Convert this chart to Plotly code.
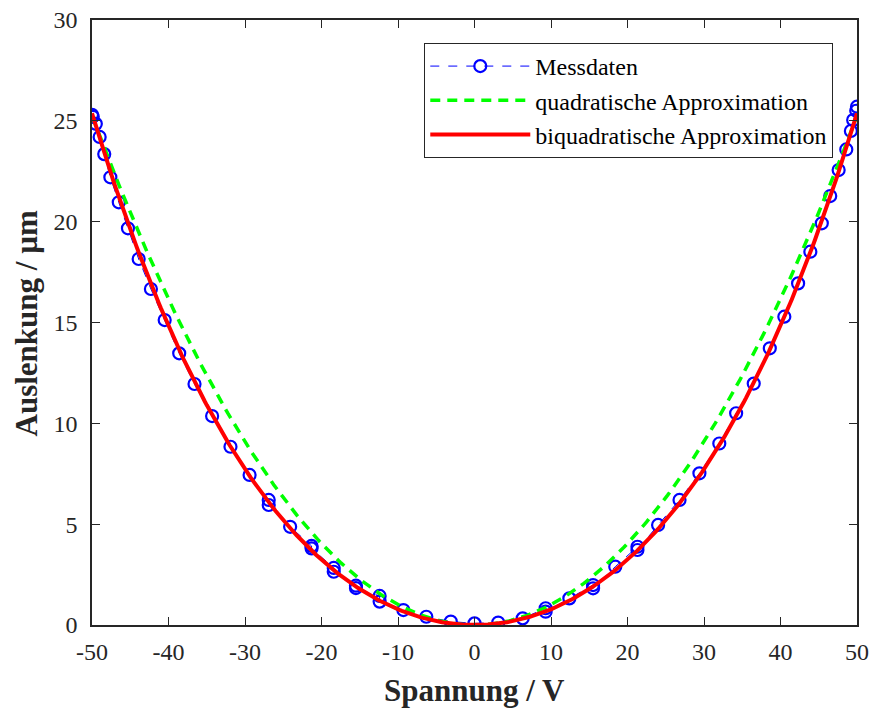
import numpy as np
import plotly.graph_objects as go

spannung = [-50.0, -49.9, -49.5, -49.0, -48.4, -47.6, -46.5, -45.3, -43.9, -42.3, -40.5, -38.6, -36.6,
            -34.3, -31.9, -29.4, -26.9, -26.9, -24.1, -21.3, -21.3, -18.4, -18.4, -15.5, -15.5,
            -12.4, -12.4, -9.3, -6.3, -3.1, 0.0,
            3.1, 6.3, 9.3, 9.3, 12.4, 15.5, 15.5, 18.4, 21.3, 21.3, 24.0, 26.8, 29.4, 32.0, 34.2,
            36.5, 38.6, 40.5, 42.3, 43.9, 45.4, 46.5, 47.6, 48.6, 49.2, 49.5, 49.9, 50.0]
auslenkung = [25.3, 25.2, 24.85, 24.2, 23.35, 22.2, 20.96, 19.67, 18.15, 16.66, 15.12, 13.47, 11.95,
              10.36, 8.84, 7.44, 6.2, 5.95, 4.87, 3.92, 3.8, 2.83, 2.64, 1.95, 1.83,
              1.44, 1.16, 0.74, 0.41, 0.17, 0.08,
              0.12, 0.33, 0.83, 0.66, 1.32, 1.98, 1.82, 2.89, 3.88, 3.72, 4.96, 6.2, 7.52, 9.0, 10.5,
              11.97, 13.72, 15.29, 16.94, 18.51, 19.92, 21.27, 22.56, 23.58, 24.5, 25.04, 25.5, 25.7]

# coefficient of the quadratic approximation (µm / V²)
quad_coeff = 0.0101

x_tickvals = [-50, -40, -30, -20, -10, 0, 10, 20, 30, 40, 50]
x_ticktext = ["-50", "-40", "-30", "-20", "-10", "0", "10", "20", "30", "40", "50"]
y_tickvals = [0, 5, 10, 15, 20, 25, 30]

V = np.array(spannung)
D = np.array(auslenkung)

# biquadratic least-squares approximation of the measured data
a_b = np.linalg.lstsq(np.column_stack([V**2, V**4]), D, rcond=None)[0]
Vf = np.linspace(-50, 50, 401)
quad = quad_coeff * Vf**2
biquad = a_b[0] * Vf**2 + a_b[1] * Vf**4

fig = go.Figure()
fig.add_trace(go.Scatter(x=spannung, y=auslenkung, mode="lines+markers", name="Messdaten",
                         line=dict(color="#0000ff", width=1, dash="dash"),
                         marker=dict(symbol="circle-open", size=12, color="#0000ff",
                                     line=dict(width=2.2, color="#0000ff"))))
fig.add_trace(go.Scatter(x=Vf, y=quad, mode="lines", name="quadratische Approximation",
                         line=dict(color="#00ff00", width=3.5, dash="10px,7px")))
fig.add_trace(go.Scatter(x=Vf, y=biquad, mode="lines", name="biquadratische Approximation",
                         line=dict(color="#ff0000", width=4)))

axis_common = dict(showgrid=False, zeroline=False, ticks="inside", ticklen=8, tickwidth=1.2,
                   tickcolor="#262626", showline=True, linecolor="#262626", linewidth=1.5,
                   mirror="ticks", automargin=False,
                   tickfont=dict(family="Liberation Serif", size=24, color="#262626"))

fig.update_layout(
    width=869, height=708,
    margin=dict(l=92, r=12, t=20, b=83),
    paper_bgcolor="white", plot_bgcolor="white",
    font=dict(family="Liberation Serif", color="#262626"),
    xaxis=dict(range=[-50, 50], tickvals=x_tickvals, ticktext=x_ticktext,
               ticklabelstandoff=4, **axis_common),
    yaxis=dict(range=[0, 30], tickvals=y_tickvals, ticklabelstandoff=8, **axis_common),
    legend=dict(x=0.969, y=0.962, xanchor="right", yanchor="top",
                bgcolor="white", bordercolor="#262626", borderwidth=1,
                font=dict(family="Liberation Serif", size=24, color="black"),
                tracegroupgap=0, itemwidth=100),
    showlegend=True,
    annotations=[
        dict(text="<b>Spannung / V</b>", xref="paper", yref="paper", x=0.5, y=-0.108,
             xanchor="center", yanchor="middle", showarrow=False,
             font=dict(size=31, family="Liberation Serif", color="#262626")),
        dict(text="<b>Auslenkung / µm</b>", xref="paper", yref="paper", x=-0.085, y=0.5,
             xanchor="center", yanchor="middle", showarrow=False, textangle=-90,
             font=dict(size=31, family="Liberation Serif", color="#262626")),
    ],
)

fig.write_html("out.html", config={"displayModeBar": False},
               post_script="document.body.style.margin='0';document.body.style.overflow='hidden';")
